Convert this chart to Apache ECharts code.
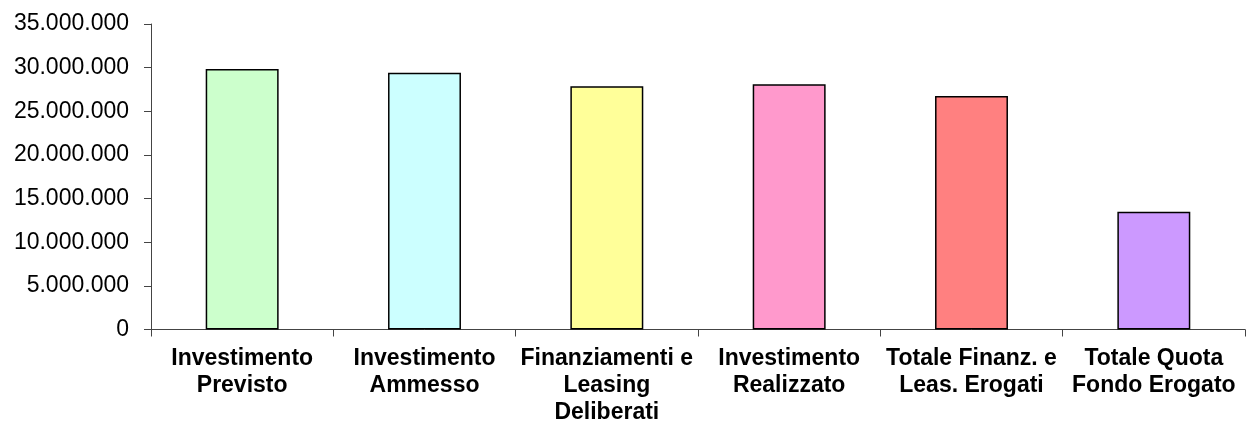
<!DOCTYPE html>
<html>
<head>
<meta charset="utf-8">
<style>
  html, body { margin: 0; padding: 0; background: #ffffff; }
  #chart { width: 1250px; height: 438px; }
</style>
<script src="https://cdn.jsdelivr.net/npm/echarts@6/dist/echarts.min.js"></script>
</head>
<body>
<div id="chart"></div>
<script>
// Voci del riepilogo e importi in euro
const categories = [
  'Investimento\nPrevisto',
  'Investimento\nAmmesso',
  'Finanziamenti e\nLeasing\nDeliberati',
  'Investimento\nRealizzato',
  'Totale Finanz. e\nLeas. Erogati',
  'Totale Quota\nFondo Erogato'
];
const values = [29850000, 29420000, 27880000, 28090000, 26760000, 13490000];
const barColors = ['#CCFFCC', '#CCFFFF', '#FFFF99', '#FF99CC', '#FF8080', '#CC99FF'];

// Asse dei valori
const yMin = 0;
const yMax = 35000000;
const yStep = 5000000;

// Separatore delle migliaia con il punto
function formatIt(v) {
  return String(Math.round(v)).replace(/\B(?=(\d{3})+(?!\d))/g, '.');
}

const chart = echarts.init(document.getElementById('chart'), null, { renderer: 'canvas' });

chart.setOption({
  animation: false,
  backgroundColor: '#ffffff',
  grid: { left: 151, right: 5, top: 24, bottom: 108.5, containLabel: false },
  xAxis: {
    type: 'category',
    data: categories,
    axisLine: { show: true, lineStyle: { color: '#444', width: 1 } },
    axisTick: { show: true, length: 7, alignWithLabel: false, lineStyle: { color: '#444', width: 1 } },
    axisLabel: {
      color: '#000',
      fontFamily: 'Liberation Sans, Arial, sans-serif',
      fontWeight: 'bold',
      fontSize: 23,
      lineHeight: 27,
      margin: 16,
      interval: 0
    },
    splitLine: { show: false }
  },
  yAxis: {
    type: 'value',
    min: yMin,
    max: yMax,
    interval: yStep,
    axisLine: { show: true, lineStyle: { color: '#444', width: 1 } },
    axisTick: { show: true, length: 7, lineStyle: { color: '#444', width: 1 } },
    axisLabel: {
      color: '#000',
      fontFamily: 'Liberation Sans, Arial, sans-serif',
      fontSize: 23,
      margin: 22,
      formatter: formatIt
    },
    splitLine: { show: false }
  },
  series: [{
    type: 'bar',
    barWidth: '40%',
    data: values.map((v, i) => ({
      value: v,
      itemStyle: { color: barColors[i], borderColor: '#000', borderWidth: 1.5 }
    }))
  }]
});
</script>
</body>
</html>
